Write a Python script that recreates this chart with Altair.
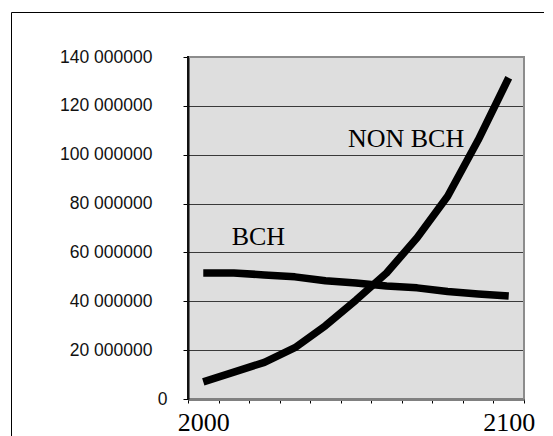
import altair as alt
import pandas as pd

years = [2000, 2010, 2020, 2030, 2040, 2050, 2060, 2070, 2080, 2090, 2100]
bch = [51.6, 51.6, 50.8, 50.0, 48.4, 47.5, 46.3, 45.5, 44.0, 43.0, 42.2]          # millions
non_bch = [7.0, 11.0, 15.0, 21.0, 30.0, 40.5, 51.6, 66.0, 83.0, 106.0, 131.5]     # millions
y_ticks = [0, 20e6, 40e6, 60e6, 80e6, 100e6, 120e6, 140e6]

label_names = ["BCH", "NON BCH"]
label_years = [2020, 2070]
label_values = [63e6, 103e6]
label_dx = [-6, -11]

rows = []
for yr, b, n in zip(years, bch, non_bch):
    rows.append({"year": yr, "series": "BCH", "value": b * 1e6})
    rows.append({"year": yr, "series": "NON BCH", "value": n * 1e6})
df = pd.DataFrame(rows)

xscale = alt.Scale(type="band", paddingInner=0, paddingOuter=0, domain=years)
yscale = alt.Scale(domain=[0, 140e6], nice=False, zero=True)

x_enc = alt.X(
    "year:O", scale=xscale, bandPosition=0.5,
    axis=alt.Axis(
        labelExpr="(datum.value == 2000 || datum.value == 2100) ? datum.label : ''",
    ),
)
y_enc = alt.Y(
    "value:Q", scale=yscale,
    axis=alt.Axis(
        values=y_ticks,
        labelExpr="datum.value == 0 ? '0' : format(datum.value / 1000000, 'd') + ' 000000'",
        labelPadding={"condition": {"test": "datum.value == 0", "value": 16}, "value": 31},
    ),
)

frame_df = pd.DataFrame({"k": [0]})
plot_top = alt.Chart(frame_df).mark_rule(color="#8c8c8c", strokeWidth=2).encode(
    x=alt.value(0), x2=alt.value(337), y=alt.value(0)
)
plot_right = alt.Chart(frame_df).mark_rule(color="#8c8c8c", strokeWidth=2).encode(
    x=alt.value(336), y=alt.value(-1), y2=alt.value(342)
)
plot_left = alt.Chart(frame_df).mark_rule(color="#111111", strokeWidth=2).encode(
    x=alt.value(0), y=alt.value(-1), y2=alt.value(342)
)

lines = alt.Chart(df).mark_line(color="#000000", strokeWidth=7.5, strokeCap="butt", strokeJoin="round").encode(
    x=x_enc, y=y_enc, detail="series:N"
)

texts = []
for name, yr, val, dx in zip(label_names, label_years, label_values, label_dx):
    tdf = pd.DataFrame({"year": [yr], "value": [val], "text": [name]})
    texts.append(
        alt.Chart(tdf).mark_text(
            font="Liberation Serif", fontSize=26, color="#000000", baseline="alphabetic", align="center", dx=dx
        ).encode(
            x=alt.X("year:O", scale=xscale, bandPosition=0.5),
            y=alt.Y("value:Q", scale=yscale),
            text="text:N",
        )
    )

frame_top = alt.Chart(frame_df).mark_rule(color="#000000", strokeWidth=1).encode(
    x=alt.value(-176.5), x2=alt.value(600), y=alt.value(-44.5)
)
frame_left = alt.Chart(frame_df).mark_rule(color="#000000", strokeWidth=1).encode(
    x=alt.value(-176.5), y=alt.value(-44.5), y2=alt.value(500)
)

chart = alt.layer(lines, plot_top, plot_right, plot_left, *texts, frame_top, frame_left).properties(
    width=336, height=342,
    autosize=alt.AutoSizeParams(type="none"),
    padding={"left": 180, "top": 49, "right": 20, "bottom": 38},
    background="#ffffff",
).configure_view(
    fill="#dedede", strokeWidth=0
).configure_axisX(
    title=None, labelAngle=0, labelOverlap=False,
    labelFont="Liberation Serif", labelFontSize=26, labelColor="#000000",
    labelPadding=6, tickBand="extent", tickSize=4, tickColor="#000000",
    domainColor="#808080", domainWidth=3, grid=False,
).configure_axisY(
    title=None,
    labelFont="Liberation Sans", labelFontSize=17.5, labelColor="#111111",
    tickSize=5, tickColor="#000000",
    domainColor="#000000", domainWidth=2,
    grid=True, gridColor="#3a3a3a", gridWidth=1,
)

chart.save("out.html", embed_options={"renderer": "svg", "actions": False})
